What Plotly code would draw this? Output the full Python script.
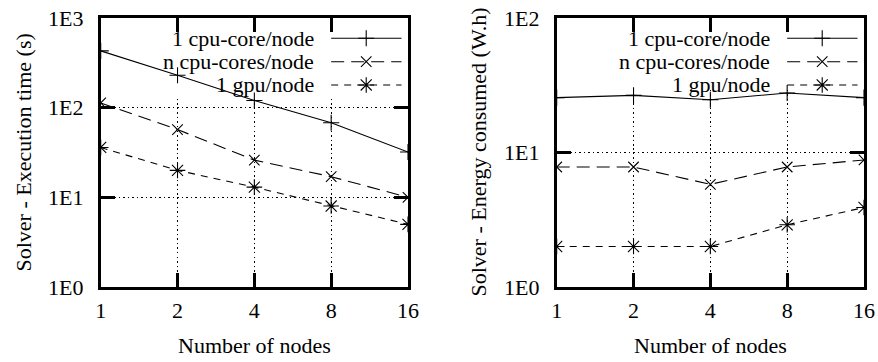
import math
import plotly.graph_objects as go

# Node counts on the shared x axis
nodes = [1, 2, 4, 8, 16]
node_labels = ["1", "2", "4", "8", "16"]

series_names = ["1 cpu-core/node", "n cpu-cores/node", "1 gpu/node"]

# Solver execution time (s)
time_cpu_core = [430, 230, 120, 68, 32]
time_cpu_cores = [113, 57, 26, 17, 10]
time_gpu = [36, 20, 13, 8, 5]

# Solver energy consumed (W.h)
energy_cpu_core = [25.6, 26.6, 24.7, 27.7, 25.6]
energy_cpu_cores = [7.8, 7.8, 5.8, 7.8, 8.8]
energy_gpu = [2.0, 2.0, 2.0, 2.9, 3.9]

time_ticks = [1, 10, 100, 1000]
time_tick_labels = ["1E0", "1E1", "1E2", "1E3"]
energy_ticks = [1, 10, 100]
energy_tick_labels = ["1E0", "1E1", "1E2"]

FONT = "Liberation Serif, DejaVu Serif, serif"
FS = 22

styles = [
    dict(dash="solid", symbol="cross-thin-open", size=11.5),
    dict(dash="13px,7px", symbol="x-thin-open", size=10.5),
    dict(dash="7px,6px", symbol="asterisk-open", size=13),
]

W, H = 878, 362
box_left = [100.7 / W, 408 / W]
box_right = [556.7 / W, 864 / W]
box_y = [1 - 287 / H, 1 - 18 / H]

x_decades = math.log10(16)

fig = go.Figure()

panels = [
    dict(xa="x", ya="y", decades=3, cover=(0.19, 0.71),
         data=[time_cpu_core, time_cpu_cores, time_gpu]),
    dict(xa="x2", ya="y2", decades=2, cover=(0.18, 0.74),
         data=[energy_cpu_core, energy_cpu_cores, energy_gpu]),
]

# Key layout, as fractions of each plot box
key_rows = [0.9245, 0.8375, 0.7510]
key_line = [0.75, 0.979]
key_mark = 0.864
key_text = 0.702


def fx(f):
    # fraction of the log-spaced x box -> axis value
    return 10 ** (f * x_decades)


for p in panels:
    fy = lambda f, d=p["decades"]: 10 ** (f * d)
    for name, vals, st in zip(series_names, p["data"], styles):
        fig.add_trace(go.Scatter(
            x=nodes, y=vals, name=name, mode="lines+markers",
            xaxis=p["xa"], yaxis=p["ya"], showlegend=False,
            line=dict(color="black", width=1.1, dash=st["dash"]),
            marker=dict(symbol=st["symbol"], size=st["size"], color="black",
                        line=dict(color="black", width=1.1)),
        ))
    # key samples
    for row, st in zip(key_rows, styles):
        yv = fy(row)
        fig.add_trace(go.Scatter(
            x=[fx(key_line[0]), fx(key_line[1])], y=[yv, yv], mode="lines",
            xaxis=p["xa"], yaxis=p["ya"], showlegend=False, hoverinfo="skip",
            line=dict(color="black", width=1.1, dash=st["dash"]),
        ))
        fig.add_trace(go.Scatter(
            x=[fx(key_mark)], y=[yv], mode="markers",
            xaxis=p["xa"], yaxis=p["ya"], showlegend=False, hoverinfo="skip",
            marker=dict(symbol=st["symbol"], size=st["size"], color="black",
                        line=dict(color="black", width=1.1)),
        ))
    # opaque key background: hides the grid but stays under the curves
    cx, cy = p["cover"]
    fig.add_shape(type="rect", xref=p["xa"], yref=p["ya"],
                  x0=fx(cx), x1=fx(0.99), y0=fy(cy), y1=fy(0.99),
                  fillcolor="white", line_width=0, layer="between")

common_axis = dict(
    showline=True, linewidth=2.8, linecolor="black", mirror="ticks",
    ticks="inside", ticklen=14, tickwidth=2.8, tickcolor="black",
    showgrid=True, gridcolor="black", gridwidth=1, griddash="1.5px,3px",
    zeroline=False, tickfont=dict(family=FONT, size=FS, color="black"),
    fixedrange=True, automargin=False,
)

xcommon = dict(common_axis, type="log", range=[0, x_decades],
               tickmode="array", tickvals=nodes, ticktext=node_labels,
               ticklabelstandoff=2)

fig.update_layout(
    template="none",
    width=W, height=H, autosize=False,
    margin=dict(l=0, r=0, t=0, b=0, pad=0),
    paper_bgcolor="white", plot_bgcolor="white",
    font=dict(family=FONT, size=FS, color="black"),
    showlegend=False,
    xaxis=dict(xcommon, domain=box_left, anchor="y"),
    yaxis=dict(common_axis, type="log", range=[0, 3], domain=box_y, anchor="x",
               tickmode="array", tickvals=time_ticks, ticktext=time_tick_labels,
               ticklabelstandoff=10),
    xaxis2=dict(xcommon, domain=box_right, anchor="y2"),
    yaxis2=dict(common_axis, type="log", range=[0, 2], domain=box_y, anchor="x2",
                tickmode="array", tickvals=energy_ticks, ticktext=energy_tick_labels,
                ticklabelstandoff=10),
)

annotations = []
for xd, yd in [("x domain", "y domain"), ("x2 domain", "y2 domain")]:
    for name, row in zip(series_names, key_rows):
        annotations.append(dict(
            text=name, xref=xd, yref=yd, x=key_text, y=row,
            xanchor="right", yanchor="middle", showarrow=False,
            font=dict(family=FONT, size=FS, color="black"),
        ))

# Axis titles
for text, x, y, angle in [
    ("Solver - Execution time (s)", 23 / W, 1 - 152.5 / H, -90),
    ("Solver - Energy consumed (W.h)", 478 / W, 1 - 152.5 / H, -90),
    ("Number of nodes", 254.5 / W, 1 - 345 / H, 0),
    ("Number of nodes", 710.4 / W, 1 - 345 / H, 0),
]:
    annotations.append(dict(
        text=text, xref="paper", yref="paper", x=x, y=y,
        xanchor="center", yanchor="middle", textangle=angle, showarrow=False,
        font=dict(family=FONT, size=FS, color="black"),
    ))

fig.update_layout(annotations=annotations)

fig.write_html("out.html", config=dict(displayModeBar=False, staticPlot=True))
